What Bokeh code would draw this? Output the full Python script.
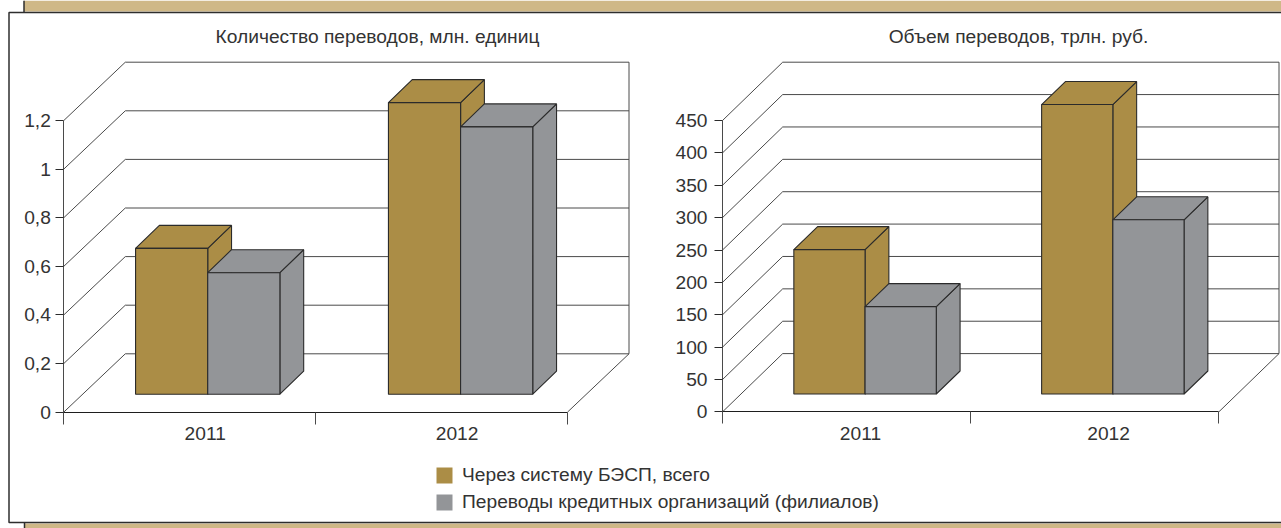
from bokeh.core.properties import value
from bokeh.embed import file_html
from bokeh.models import FixedTicker, Legend, LegendItem, LinearAxis, Range1d
from bokeh.plotting import figure
from bokeh.resources import INLINE

# Data
years = ["2011", "2012"]
series_names = ["Через систему БЭСП, всего", "Переводы кредитных организаций (филиалов)"]

count_title = "Количество переводов, млн. единиц"
count_ticks = [0, 0.2, 0.4, 0.6, 0.8, 1, 1.2]
count_tick_labels = ["0", "0,2", "0,4", "0,6", "0,8", "1", "1,2"]
count_besp = [0.6, 1.2]
count_branches = [0.5, 1.1]

volume_title = "Объем переводов, трлн. руб."
volume_ticks = [0, 50, 100, 150, 200, 250, 300, 350, 400, 450]
volume_tick_labels = ["0", "50", "100", "150", "200", "250", "300", "350", "400", "450"]
volume_besp = [223, 447]
volume_branches = [135, 269]

# Styles
GOLD = "#AB8D46"
GREY = "#939598"
TAN = "#CFB887"
EDGE = "#2B2B2B"
GRID = "#4A4A4A"
TEXT = "#333333"
FONT = "Liberation Sans"
FONT_SIZE = "19.2px"
W, H = 1281, 528

p = figure(width=W, height=H, x_range=Range1d(0, W), y_range=Range1d(H, 0),
           x_axis_type=None, y_axis_type=None, toolbar_location=None,
           output_backend="svg", min_border=0, outline_line_color=None)
p.grid.visible = False

# Page furniture: tan strips behind a white panel with a dark left/top/bottom rule
p.quad(left=[23.5, 24], right=[W, W], top=[0, 523], bottom=[11, H], fill_color=TAN, line_color=None)
p.multi_line(xs=[[23.5, 23.5], [24, 24], [W, 8.5, 8.5, W]], ys=[[0, 12], [522, H], [12, 12, 522, 522]],
             line_color="#2E2E2E", line_width=1.5)


def draw_chart(name, title, title_x, ticks, tick_labels, besp, branches, x0, x1, y0, y1,
               depth_x, first_bar, bar_w, label_shift, value_standoff):
    """Pseudo-3D clustered bars on their own value/category scales."""
    ku = (x1 - x0) / len(years)  # pixels per category
    kv = (y0 - y1) / ticks[-1]   # pixels per value unit
    xname, yname = f"{name}_x", f"{name}_y"
    p.extra_x_ranges[xname] = Range1d(-x0 / ku, (W - x0) / ku)
    p.extra_y_ranges[yname] = Range1d(-(H - y0) / kv, y0 / kv)
    scales = dict(x_range_name=xname, y_range_name=yname)

    wall_dx = depth_x / ku
    wall_dy = 58.3 / kv
    top = ticks[-1]

    # Walls and floor
    xs = [[0, wall_dx, 2 + wall_dx] for _ in ticks] + [[2, 2 + wall_dx, 2 + wall_dx]]
    ys = [[t, t + wall_dy, t + wall_dy] for t in ticks] + [[0, wall_dy, top + wall_dy]]
    p.multi_line(xs=xs, ys=ys, line_color=GRID, line_width=1, **scales)

    # Bars: floor offset and box depth are fractions of the wall depth
    floor_dy = 17.9 / kv
    box_dx = 23.8 / ku
    box_dy = 23 / kv
    for i in range(len(years)):
        start = i + first_bar[i]
        for j, (vals, colour) in enumerate([(besp, GOLD), (branches, GREY)]):
            left = start + j * bar_w
            right = left + bar_w
            v = vals[i] + floor_dy
            p.patches(
                xs=[[right, right + box_dx, right + box_dx, right],
                    [left, left + box_dx, right + box_dx, right]],
                ys=[[floor_dy, floor_dy + box_dy, v + box_dy, v],
                    [v, v + box_dy, v + box_dy, v]],
                fill_color=colour, line_color=EDGE, line_width=1.1, **scales)
            p.quad(left=[left], right=[right], bottom=[floor_dy], top=[v],
                   fill_color=colour, line_color=EDGE, line_width=1.1, **scales)

    # Value axis
    yaxis = LinearAxis(x_range_name=xname, y_range_name=yname, fixed_location=0,
                       ticker=FixedTicker(ticks=ticks), bounds=(0, top),
                       major_label_overrides=dict(zip(ticks, tick_labels)),
                       major_tick_out=8, major_tick_in=0, minor_tick_line_color=None,
                       major_label_standoff=value_standoff, axis_line_color=GRID,
                       major_tick_line_color=EDGE,
                       major_label_text_font=FONT, major_label_text_font_size=FONT_SIZE,
                       major_label_text_color=TEXT)
    p.add_layout(yaxis, "left")

    # Category axis: ticks on the category edges, labels over the bars
    label_pos = [i + label_shift for i in range(len(years))]
    xaxis = LinearAxis(x_range_name=xname, y_range_name=yname, fixed_location=0,
                       ticker=FixedTicker(ticks=label_pos, minor_ticks=[0, 1, 2]), bounds=(0, 2),
                       major_label_overrides=dict(zip(label_pos, years)),
                       major_tick_out=0, major_tick_in=0, minor_tick_out=12, minor_tick_in=0,
                       minor_tick_line_color=GRID, major_label_standoff=3,
                       axis_line_color="#1E1E1E", axis_line_width=1.2,
                       major_label_text_font=FONT, major_label_text_font_size=FONT_SIZE,
                       major_label_text_color=TEXT)
    p.add_layout(xaxis, "below")

    p.text(x=[title_x], y=[36], text=[title], text_align="center", text_baseline="middle",
           text_font=value(FONT), text_font_size=FONT_SIZE, text_color=TEXT)


draw_chart("count", count_title, 377, count_ticks, count_tick_labels, count_besp, count_branches,
           63.3, 567, 411.6, 120, 61.5, [0.285, 0.289], 0.2865, 0.5615, 5)
draw_chart("volume", volume_title, 1018, volume_ticks, volume_tick_labels, volume_besp, volume_branches,
           722, 1218.3, 411.4, 120, 60.2, [0.2875, 0.286], 0.287, 0.556, 7)

# Legend swatches come from helper glyphs without outlines
nan = float("nan")
swatches = [p.quad(left=[nan], right=[nan], top=[nan], bottom=[nan], fill_color=c, line_color=None)
            for c in (GOLD, GREY)]
legend = Legend(items=[LegendItem(label=n, renderers=[r]) for n, r in zip(series_names, swatches)],
                location=(434, 15), orientation="vertical", background_fill_alpha=0, border_line_color=None,
                glyph_width=20, glyph_height=20, label_text_font=FONT, label_text_font_size=FONT_SIZE,
                label_text_color=TEXT, spacing=5, padding=9, margin=0, label_standoff=8,
                label_height=16)
p.add_layout(legend, "center")

open("out.html", "w").write(file_html(p, INLINE))
